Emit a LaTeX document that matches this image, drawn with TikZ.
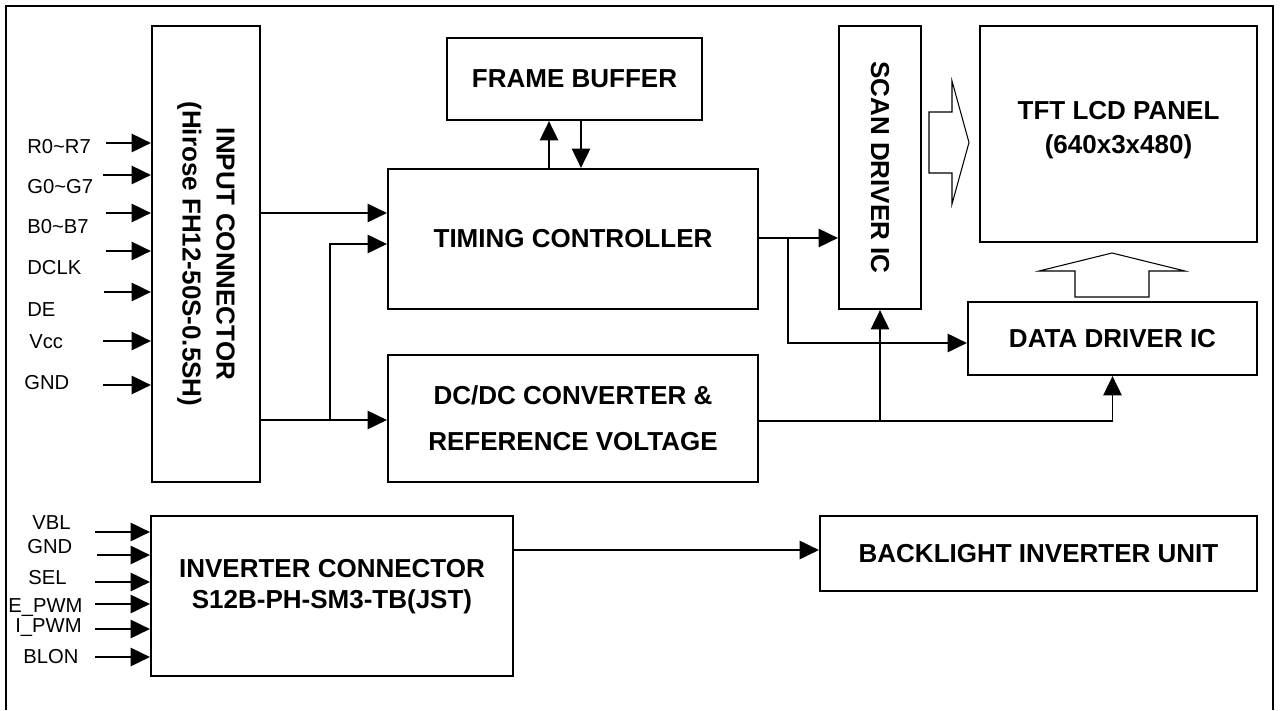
\documentclass[tikz,border=0pt]{standalone}
\usepackage{fontspec}
\setmainfont{Liberation Sans}
\usetikzlibrary{arrows.meta}

\begin{document}
\begin{tikzpicture}[
    x=0.02cm, y=-0.02cm,
    blk/.style={draw, line width=1.3pt, inner sep=0pt, align=center,
      font=\bfseries\fontsize{14.8}{19.3}\selectfont},
    vtxt/.style={rotate=-90, inner sep=0pt, align=center,
      font=\bfseries\fontsize{14.8}{19.3}\selectfont},
    sig/.style={anchor=west, inner sep=0pt, font=\fontsize{11.5}{14}\selectfont},
    arr/.style={line width=0.9pt, -{Triangle[length=11pt, width=10.5pt]}},
    hollow/.style={line width=0.6pt, line join=miter},
  ]
  \useasboundingbox (0,0) rectangle (1281,710);
  \draw[line width=1.2pt] (6,710) -- (6,6) -- (1273,6) -- (1273,710); % cadre

  % les blocs
  \node[blk, minimum width=2.16cm, minimum height=9.12cm] (inconn) at (206,254) {};
  \node[vtxt] at (inconn.center) {INPUT CONNECTOR\\(Hirose FH12-50S-0.5SH)};
  \node[blk, minimum width=5.1cm, minimum height=1.64cm] (fbuf) at (574.5,79) {FRAME BUFFER};
  \node[blk, minimum width=7.4cm, minimum height=2.8cm] (timing) at (573,239) {TIMING CONTROLLER};
  \node[blk, minimum width=7.4cm, minimum height=2.54cm] (dcdc) at (573,418.5)
    {DC/DC CONVERTER \&\\[7pt]REFERENCE VOLTAGE};
  \node[blk, minimum width=1.64cm, minimum height=5.66cm] (scan) at (880,167.5) {};
  \node[vtxt] at (scan.center) {SCAN DRIVER IC};
  \node[blk, minimum width=5.54cm, minimum height=4.32cm] (panel) at (1118.5,134) {};
  \node[blk, draw=none] at (1118.5,130) {TFT LCD PANEL\\(640x3x480)};
  \node[blk, minimum width=5.78cm, minimum height=1.46cm] (ddrv) at (1112.5,338.5) {DATA DRIVER IC};
  \node[blk, minimum width=7.24cm, minimum height=3.2cm] (invconn) at (332,596) {};
  \node[blk, draw=none, font=\bfseries\fontsize{14.8}{17.6}\selectfont] at (332,587)
    {INVERTER CONNECTOR\\S12B-PH-SM3-TB(JST)};
  \node[blk, minimum width=8.74cm, minimum height=1.5cm] (bliu) at (1038.5,553.5) {BACKLIGHT INVERTER UNIT};

  % signaux d'entree
  \foreach \txt/\lx/\ly/\sx/\ay [count=\i] in {R0\textasciitilde R7/27/147/106/143,
      G0\textasciitilde G7/27/187/103/175, B0\textasciitilde B7/27/227/106/213,
      DCLK/27/268/106/251, DE/27/310/104/292, Vcc/29/342/103/341, GND/24/383/103/385}
  {
    \node[sig] (in\i) at (\lx,\ly) {\txt};
    \coordinate (ins\i) at (\sx,\ay);
    \draw[arr] (ins\i) -- (inconn.west |- ins\i);
  }
  \foreach \txt/\lx/\ly/\sx/\ay [count=\i] in {VBL/32/523/95/532, GND/27/547/97/555,
      SEL/28/578/95/582, E\_PWM/8/608/95/604, I\_PWM/15/628/95/629, BLON/23/657/95/657}
  {
    \node[sig] (bl\i) at (\lx,\ly) {\txt};
    \coordinate (bls\i) at (\sx,\ay);
    \draw[arr] (bls\i) -- (invconn.west |- bls\i);
  }

  % liaisons
  \draw[arr] (inconn.east |- 0,213) -- (timing.west |- 0,213);
  \draw[arr] (inconn.east |- 0,420) -- (dcdc.west |- 0,420);
  \draw[arr] (330,0 |- 0,420) |- (timing.west |- 0,244);
  \draw[arr] (timing.north -| 549,0) -- (fbuf.south -| 549,0);
  \draw[arr] (fbuf.south -| 581,0) -- (timing.north -| 581,0);
  \draw[arr] (timing.east |- 0,238) -- (scan.west |- 0,238);
  \draw[arr] (788,0 |- 0,238) |- (ddrv.west |- 0,343);
  \draw[arr] (dcdc.east |- 0,421) -| (ddrv.south);
  \draw[arr] (scan.south |- 0,421) -- (scan.south);
  \draw[arr] (invconn.east |- 0,550) -- (bliu.west |- 0,550);

  % fleches creuses vers la dalle
  \draw[hollow] (929,112) -- (952,112) -- (952,81) -- (969,142.5) -- (952,204)
    -- (952,173) -- (929,173) -- cycle;
  \draw[hollow] (1075,297) -- (1075,271) -- (1039,271) -- (1112,253) -- (1185,271)
    -- (1149,271) -- (1149,297) -- cycle;
\end{tikzpicture}
\end{document}
